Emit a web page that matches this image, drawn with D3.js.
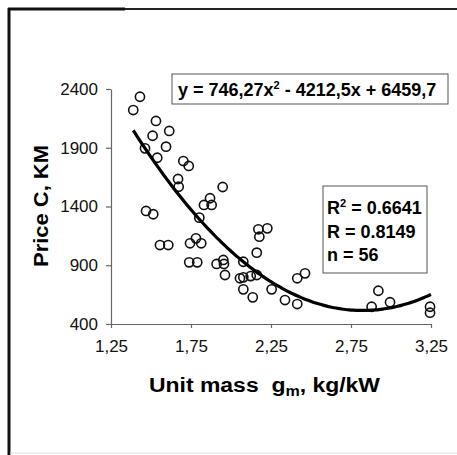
<!DOCTYPE html>
<html><head><meta charset="utf-8">
<script src="https://cdn.jsdelivr.net/npm/d3@7"></script>
<style>body{margin:0;background:#fff}svg{display:block}text{font-family:"Liberation Sans",Arial,sans-serif}</style>
</head><body>
<script>
const massX = [1.389,1.431,1.531,1.51,1.614,1.4625,1.594,1.539,1.702,1.736,1.669,1.673,1.948,1.869,1.831,1.879,1.469,1.514,1.802,1.556,1.608,1.744,1.781,1.814,1.739,1.789,1.91,1.952,1.956,1.9625,2.077,2.056,2.077,2.123,2.077,2.136,2.161,2.171,2.227,2.177,2.161,2.254,2.3375,2.414,2.414,2.4625,2.879,2.921,2.994,3.244,3.244];
const priceY = [2221,2334,2128,2002,2043,1895,1909,1815,1787,1745,1634,1568,1566,1470,1413,1413,1362,1334,1305,1072,1072,1087,1129,1087,925,925,911,945,911,817,930,789,797,808,695,627,1007,1206,1214,1143,817,695,604,570,789,831,547,683,585,547,496];
const xTicks = [1.25,1.75,2.25,2.75,3.25];
const xTickLabels = ["1,25","1,75","2,25","2,75","3,25"];
const yTicks = [400,900,1400,1900,2400];
const yTickLabels = ["400","900","1400","1900","2400"];
const fitCoef = [746.27,-4212.5,6459.7];
const fitRange = [1.389,3.25];

const W=457,H=455;
const svg=d3.select("body").append("svg").attr("width",W).attr("height",H);
// frame
svg.append("line").attr("x1",9).attr("x2",9).attr("y1",8).attr("y2",455).attr("stroke","#111").attr("stroke-width",3);
svg.append("line").attr("x1",8).attr("x2",125).attr("y1",9).attr("y2",9).attr("stroke","#111").attr("stroke-width",3);
svg.append("line").attr("x1",125).attr("x2",457).attr("y1",9).attr("y2",9).attr("stroke","#222").attr("stroke-width",2);
svg.append("line").attr("x1",10).attr("x2",457).attr("y1",453).attr("y2",453).attr("stroke","#ddd").attr("stroke-width",1);

const x=d3.scaleLinear().domain([1.25,3.25]).range([111,431]);
const y=d3.scaleLinear().domain([400,2400]).range([324,89]);

const gx=svg.append("g").attr("transform","translate(0,324)")
  .call(d3.axisBottom(x).tickValues(xTicks).tickFormat((d,i)=>xTickLabels[i]).tickSize(4).tickSizeOuter(0).tickPadding(12));
const gy=svg.append("g").attr("transform","translate(111,0)")
  .call(d3.axisLeft(y).tickValues(yTicks).tickFormat((d,i)=>yTickLabels[i]).tickSize(5).tickSizeOuter(0).tickPadding(8));
[gx,gy].forEach(g=>{
  g.select(".domain").attr("stroke","#666").attr("stroke-width",1.2);
  g.selectAll(".tick line").attr("stroke","#666").attr("stroke-width",1.2);
  g.selectAll("text").attr("font-size",17).attr("fill","#111").style("font-family","Liberation Sans, Arial, sans-serif");
});

// points
svg.append("g").selectAll("circle").data(massX.map((m,i)=>[m,priceY[i]])).join("circle")
  .attr("cx",d=>x(d[0])).attr("cy",d=>y(d[1])).attr("r",4.6)
  .attr("fill","none").attr("stroke","#111").attr("stroke-width",1.6);

// trend line
const fx=v=>fitCoef[0]*v*v+fitCoef[1]*v+fitCoef[2];
const xs=d3.range(fitRange[0],fitRange[1]+1e-9,(fitRange[1]-fitRange[0])/80);
svg.append("path").datum(xs).attr("fill","none").attr("stroke","#000").attr("stroke-width",3.2)
  .attr("d",d3.line().x(v=>x(v)).y(v=>y(fx(v))).curve(d3.curveMonotoneX));

// equation box
svg.append("rect").attr("x",172).attr("y",74).attr("width",276).attr("height",30).attr("fill","#fff").attr("stroke","#555").attr("stroke-width",1);
const eq=svg.append("text").attr("x",178).attr("y",96).attr("font-size",18).attr("font-weight","bold").attr("fill","#000");
eq.append("tspan").text("y = 746,27x");
eq.append("tspan").attr("font-size",11).attr("dy",-7).text("2");
eq.append("tspan").attr("dy",7).text(" - 4212,5x + 6459,7");

// stats box
svg.append("rect").attr("x",323).attr("y",186).attr("width",104).attr("height",87).attr("fill","#fff").attr("stroke","#555").attr("stroke-width",1);
const r2=svg.append("text").attr("x",327).attr("y",214).attr("font-size",18).attr("font-weight","bold");
r2.append("tspan").text("R");
r2.append("tspan").attr("font-size",11).attr("dy",-7).text("2");
r2.append("tspan").attr("dy",7).text(" = 0.6641");
svg.append("text").attr("x",327).attr("y",238).attr("font-size",18).attr("font-weight","bold").text("R = 0.8149");
svg.append("text").attr("x",327).attr("y",261).attr("font-size",18).attr("font-weight","bold").text("n = 56");

// axis titles
const xt=svg.append("text").attr("x",149).attr("y",392).attr("font-size",20).attr("font-weight","bold")
  .attr("textLength",231).attr("lengthAdjust","spacingAndGlyphs");
xt.append("tspan").text("Unit mass\u00a0\u00a0g");
xt.append("tspan").attr("font-size",14).attr("dy",4).text("m");
xt.append("tspan").attr("dy",-4).text(", kg/kW");
svg.append("text").attr("transform","translate(48,206) rotate(-90)").attr("text-anchor","middle")
  .attr("font-size",20).attr("font-weight","bold").attr("textLength",122).attr("lengthAdjust","spacingAndGlyphs").text("Price C, KM");
</script>
</body></html>
